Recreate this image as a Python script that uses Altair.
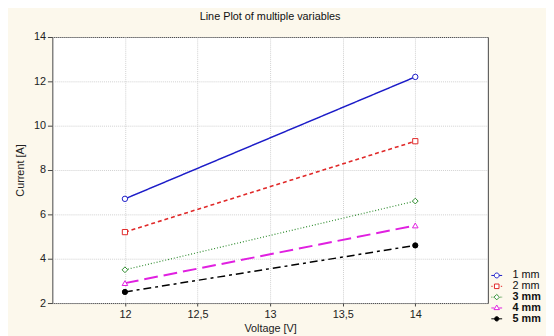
import altair as alt
import pandas as pd

# ---- data ----
voltage = [12, 14]
series = ["1 mm", "2 mm", "3 mm", "4 mm", "5 mm"]
current_1mm = [6.7, 12.2]
current_2mm = [5.2, 9.3]
current_3mm = [3.5, 6.6]
current_4mm = [2.9, 5.5]
current_5mm = [2.5, 4.6]
x_ticks = [12, 12.5, 13, 13.5, 14]
y_ticks = [2, 4, 6, 8, 10, 12, 14]

values = [current_1mm, current_2mm, current_3mm, current_4mm, current_5mm]

rows = []
for s, vals in zip(series, values):
    for v, c in zip(voltage, vals):
        rows.append({"series": s, "key": s, "voltage": v, "current": c})
df = pd.DataFrame(rows)

# ---- styles ----
colors = ["#1c1cc8", "#e02828", "#2e8b2e", "#e020e0", "#000000"]
dashes = [[1, 0], [4, 3], [1, 2], [14, 6], [8, 4, 3, 4]]
widths = [1.5, 1.6, 1.2, 2.0, 1.5]
shapes = ["circle", "square", "diamond", "triangle-up", "circle"]
fills = ["white", "white", "white", "white", "black"]
sizes = [30, 28, 34, 32, 28]

# legend symbols: line stub + marker (unit coords)
legend_paths = [
    "M-1,0H-0.45M0.45,0H1M-0.45,0A0.45,0.45 0 1 1 0.45,0A0.45,0.45 0 1 1 -0.45,0Z",
    "M-1,0H-0.75M0.75,0H1M-0.42,-0.42H0.42V0.42H-0.42Z",
    "M-1,0H-0.88M-0.75,0H-0.63M0.63,0H0.75M0.88,0H1M0,-0.5L0.5,0L0,0.5L-0.5,0Z",
    "M-1,0H-0.45M0.45,0H1M0,-0.55L0.5,0.3H-0.5Z",
    "M-1,0H-0.4M0.4,0H1M-0.4,0A0.4,0.4 0 1 1 0.4,0A0.4,0.4 0 1 1 -0.4,0Z",
]

FONT = "Liberation Sans"

x_enc = alt.X(
    "voltage:Q",
    scale=alt.Scale(domain=[11.5, 14.5], nice=False, zero=False),
    axis=alt.Axis(
        values=x_ticks,
        title="Voltage [V]",
        labelExpr="replace(format(datum.value, '~g'), '.', ',')",
        grid=True,
        gridColor="#d0d0d0",
        gridDash=[1, 1],
        tickSize=3,
        labelPadding=3,
        titlePadding=3,
        domain=False,
        tickColor="#444",
    ),
)
y_enc = alt.Y(
    "current:Q",
    scale=alt.Scale(domain=[2, 14], nice=False, zero=False),
    axis=alt.Axis(
        values=y_ticks,
        title="Current [A]",
        grid=True,
        gridColor="#d0d0d0",
        gridDash=[1, 1],
        tickSize=5,
        labelPadding=2,
        titlePadding=8,
        domain=False,
        tickColor="#444",
    ),
)

layers = []
for i, s in enumerate(series):
    d = df[df["series"] == s]
    line = (
        alt.Chart(d)
        .mark_line(color=colors[i], strokeDash=dashes[i], strokeWidth=widths[i])
        .encode(x=x_enc, y=y_enc)
    )
    layers.append(line)
for i, s in enumerate(series):
    d = df[df["series"] == s]
    pts = (
        alt.Chart(d)
        .mark_point(
            shape=shapes[i],
            filled=False,
            fill=fills[i],
            fillOpacity=1,
            stroke=colors[i],
            strokeWidth=1,
            size=sizes[i],
            opacity=1,
        )
        .encode(x=x_enc, y=y_enc)
    )
    layers.append(pts)

legend_layer = (
    alt.Chart(df)
    .mark_point(opacity=0, size=121, strokeWidth=1)
    .encode(
        x=x_enc,
        y=y_enc,
        shape=alt.Shape("key:N", scale=alt.Scale(domain=series, range=legend_paths),
                        legend=alt.Legend(
                            title=None,
                            orient="none",
                            legendX=445,
                            legendY=236,
                            padding=0,
                            rowPadding=0,
                            symbolSize=121,
                            symbolOpacity=1,
                            symbolStrokeWidth=1,
                            labelFont=FONT,
                            labelFontSize=11,
                            labelColor="#111",
                            labelOffset=10,
                            labelFontWeight={"expr": "datum.index >= 2 ? 'bold' : 'normal'"},
                        )),
        stroke=alt.Stroke("key:N", scale=alt.Scale(domain=series, range=colors)),
        fill=alt.Fill("key:N", scale=alt.Scale(domain=series, range=fills)),
    )
)
layers.append(legend_layer)

chart = (
    alt.layer(*layers)
    .properties(
        width=442,
        height=270,
        autosize=alt.AutoSizeParams(type="none"),
        padding={"left": 45, "top": 27, "right": 59, "bottom": 31},
        background="#fcf8ec",
        title=alt.TitleParams(
            "Line Plot of multiple variables",
            font=FONT,
            fontSize=11,
            fontWeight="normal",
            color="#111",
            anchor="middle",
            offset=9,
        ),
    )
    .configure_view(fill="white", stroke="#444", strokeWidth=1)
    .configure_axis(
        labelFont=FONT,
        titleFont=FONT,
        labelFontSize=11,
        titleFontSize=11,
        titleFontWeight="normal",
        labelColor="#222",
        titleColor="#222",
    )
)

chart.save("out.html", embed_options={"renderer": "svg", "actions": False})
